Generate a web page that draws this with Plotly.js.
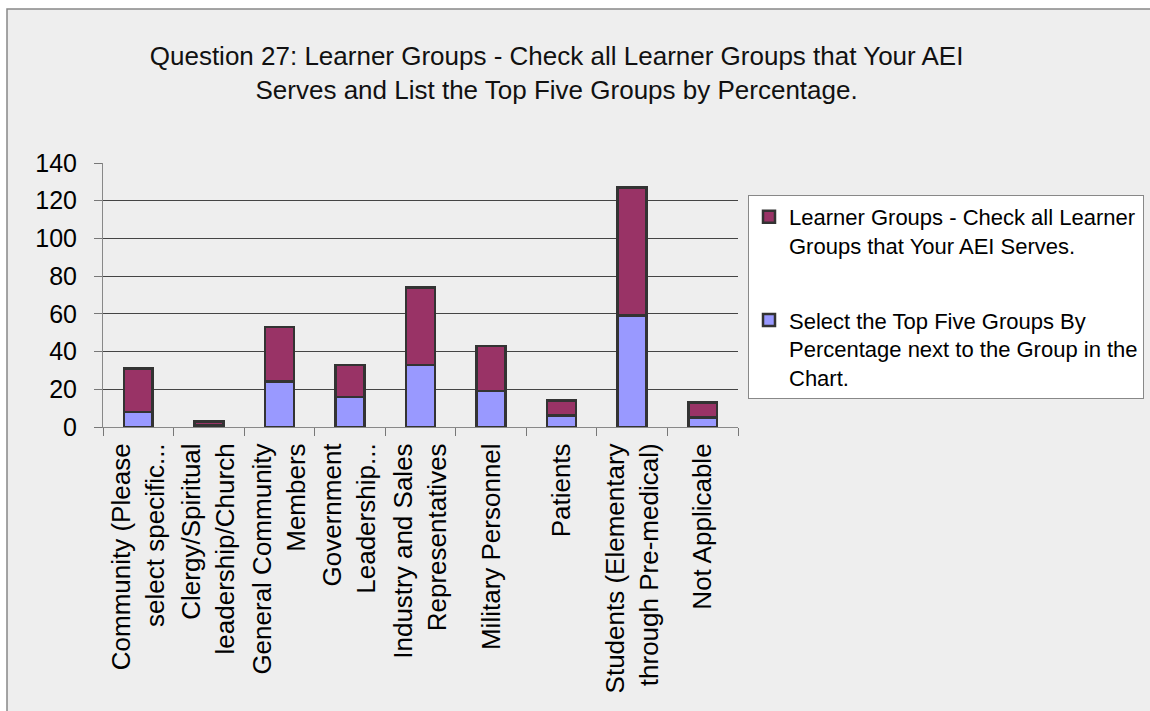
<!DOCTYPE html>
<html>
<head>
<meta charset="utf-8">
<script src="https://cdn.plot.ly/plotly-3.0.1.min.js"></script>
<style>html,body{margin:0;padding:0;background:#fff;}#chart{width:1150px;height:711px;}</style>
</head>
<body>
<div id="chart"></div>
<script>
const categories = [
  "Community (Please<br>select specific...",
  "Clergy/Spiritual<br>leadership/Church",
  "General Community<br>Members",
  "Government<br>Leadership...",
  "Industry and Sales<br>Representatives",
  "Military Personnel",
  "Patients",
  "Students (Elementary<br>through Pre-medical)",
  "Not Applicable"
];
const topFiveValues = [8, 1, 24, 16, 33, 19, 6, 59, 5];
const learnerGroupValues = [23, 2, 29, 17, 41, 24, 8, 68, 8];
const seriesNames = [
  "Select the Top Five Groups By<br>Percentage next to the Group in the<br>Chart.",
  "Learner Groups - Check all Learner<br>Groups that Your AEI Serves."
];
const titleText = "Question 27: Learner Groups - Check all Learner Groups that Your AEI<br>Serves and List the Top Five Groups by Percentage.";

const FONT = "Liberation Sans, Arial, sans-serif";
const traces = [
  {type: "bar", x: categories, y: topFiveValues, name: seriesNames[0], legendgroup: "a", legendrank: 2,
   marker: {color: "#9999FF", line: {color: "#333333", width: 2.5}}, width: 0.41},
  {type: "bar", x: categories, y: learnerGroupValues, name: seriesNames[1], legendgroup: "b", legendrank: 1,
   marker: {color: "#993366", line: {color: "#333333", width: 2.5}}, width: 0.41}
];
const layout = {
  width: 1150, height: 711,
  barmode: "stack",
  paper_bgcolor: "#ffffff",
  plot_bgcolor: "#eeeeee",
  margin: {l: 103, r: 412, t: 163, b: 284, pad: 0, autoexpand: false},
  font: {family: FONT, color: "#000"},
  title: {text: titleText, x: 0.484, xanchor: "center", xref: "container",
          y: 1 - 65/711, yanchor: "top", yref: "container",
          font: {family: FONT, size: 26, color: "#111"}},
  xaxis: {type: "category", tickangle: -90, tickfont: {size: 26, color: "#000"},
          ticks: "outside", tickson: "boundaries", ticklen: 8, tickcolor: "#777",
          ticklabelstandoff: 5,
          showline: true, linecolor: "#888", linewidth: 1, showgrid: false,
          automargin: false, fixedrange: true},
  yaxis: {range: [0, 140], dtick: 20, tickfont: {size: 25, color: "#000"},
          ticks: "outside", ticklen: 8, tickcolor: "#777", ticklabelstandoff: 12,
          showline: true, linecolor: "#888", linewidth: 1,
          showgrid: true, gridcolor: "#444", gridwidth: 1, zeroline: false,
          automargin: false, fixedrange: true},
  legend: {x: (748 - 103) / 635, xanchor: "left", y: (427 - 195) / 264, yanchor: "top",
           bgcolor: "#ffffff", bordercolor: "#888", borderwidth: 1,
           traceorder: "grouped", tracegroupgap: 43, valign: "top",
           font: {family: FONT, size: 22, color: "#000"}},
  shapes: [
    {type: "rect", xref: "paper", yref: "paper", layer: "below",
     x0: (7 - 103) / 635, x1: 3, y0: -3, y1: (427 - 9) / 264,
     fillcolor: "#eeeeee", line: {color: "#888", width: 1.5}}
  ],
  showlegend: true
};
Plotly.newPlot("chart", traces, layout, {displayModeBar: false, staticPlot: true});
</script>
</body>
</html>
